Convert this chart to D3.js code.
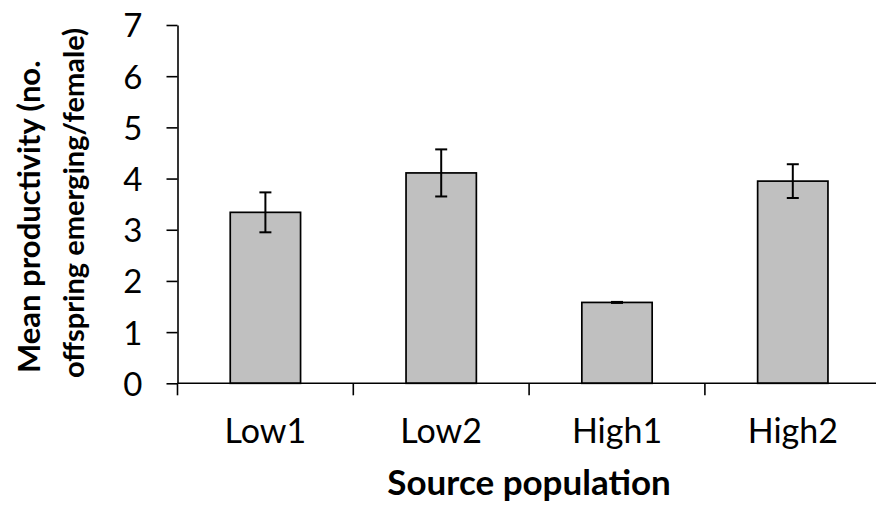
<!DOCTYPE html>
<html>
<head>
<meta charset="utf-8">
<script src="https://cdn.jsdelivr.net/npm/d3@7"></script>
<style>
  body { margin: 0; background: #fff; }
  svg { display: block; }
  text { font-family: Lato, "Open Sans", sans-serif; fill: #000; }
</style>
</head>
<body>
<svg id="chart"></svg>
<script>
// data
var populations = ["Low1", "Low2", "High1", "High2"];
var mean_productivity = [3.34, 4.11, 1.58, 3.95];
var std_error = [0.39, 0.46, 0.01, 0.33];
var y_ticks = [0, 1, 2, 3, 4, 5, 6, 7];
var y_title_lines = ["Mean productivity (no.", "offspring emerging/female)"];

var w = 876, h = 506;

var svg = d3.select("#chart")
  .attr("width", w)
  .attr("height", h);

var y = d3.scaleLinear()
  .domain([0, 7])
  .range([383.3, 25]);

var x = d3.scaleBand()
  .domain(populations)
  .range([177.5, 880.7])
  .paddingInner(0.6)
  .paddingOuter(0.3);

var rows = populations.map(function(p, i) {
  return { name: p, mean: mean_productivity[i], se: std_error[i] };
});

// bars
svg.append("g")
  .selectAll("rect")
  .data(rows)
  .enter().append("rect")
    .attr("x", function(d) { return x(d.name); })
    .attr("y", function(d) { return y(d.mean); })
    .attr("width", x.bandwidth())
    .attr("height", function(d) { return y(0) - y(d.mean); })
    .attr("fill", "#c0c0c0")
    .attr("stroke", "#000")
    .attr("stroke-width", 1.7);

// error bars
var capHalf = 6;
var err = svg.append("g")
  .attr("stroke", "#000")
  .attr("stroke-width", 2);

rows.forEach(function(d) {
  var cx = x(d.name) + x.bandwidth() / 2;
  var top = y(d.mean + d.se), bot = y(d.mean - d.se);
  err.append("line").attr("x1", cx).attr("x2", cx).attr("y1", top).attr("y2", bot);
  err.append("line").attr("x1", cx - capHalf).attr("x2", cx + capHalf).attr("y1", top).attr("y2", top);
  err.append("line").attr("x1", cx - capHalf).attr("x2", cx + capHalf).attr("y1", bot).attr("y2", bot);
});

// y axis
var yAxis = svg.append("g")
  .attr("transform", "translate(177.5,0)")
  .call(d3.axisLeft(y)
    .tickValues(y_ticks)
    .tickFormat(d3.format("d"))
    .tickSize(11)
    .tickPadding(24)
    .tickSizeOuter(0));
yAxis.select(".domain").attr("stroke-width", 1.6);
yAxis.selectAll(".tick line").attr("stroke-width", 1.6);
yAxis.selectAll(".tick text")
  .style("font-size", "33px")
  .attr("dy", "0.36em");

// x axis: line along zero with ticks at category boundaries
var xAxis = svg.append("g");
xAxis.append("line")
  .attr("x1", x.range()[0]).attr("x2", x.range()[1])
  .attr("y1", y(0)).attr("y2", y(0))
  .attr("stroke", "#000").attr("stroke-width", 1.6);

var boundaries = populations.map(function(p) { return x(p) - x.step() * x.paddingOuter(); });
boundaries.push(x.range()[1]);
xAxis.selectAll(".bt")
  .data(boundaries)
  .enter().append("line")
    .attr("x1", function(d) { return d; })
    .attr("x2", function(d) { return d; })
    .attr("y1", y(0))
    .attr("y2", y(0) + 12)
    .attr("stroke", "#000").attr("stroke-width", 1.6);

xAxis.selectAll(".lbl")
  .data(populations)
  .enter().append("text")
    .attr("x", function(d) { return x(d) + x.bandwidth() / 2; })
    .attr("y", 443)
    .attr("text-anchor", "middle")
    .style("font-size", "34px")
    .text(function(d) { return d; });

// axis titles
svg.append("text")
  .attr("x", (x.range()[0] + x.range()[1]) / 2)
  .attr("y", 495)
  .attr("text-anchor", "middle")
  .style("font-size", "35px")
  .style("font-weight", "bold")
  .text("Source population");

// two-line rotated y title; sizes differ a little so each line keeps its reference length
var titleSizes = [31, 29];
var titleBase = [[-373, 40], [-378, 84]];
y_title_lines.forEach(function(t, i) {
  svg.append("text")
    .attr("transform", "rotate(-90)")
    .attr("x", titleBase[i][0])
    .attr("y", titleBase[i][1])
    .attr("text-anchor", "start")
    .style("font-size", titleSizes[i] + "px")
    .style("font-weight", "bold")
    .text(t);
});
</script>
</body>
</html>
